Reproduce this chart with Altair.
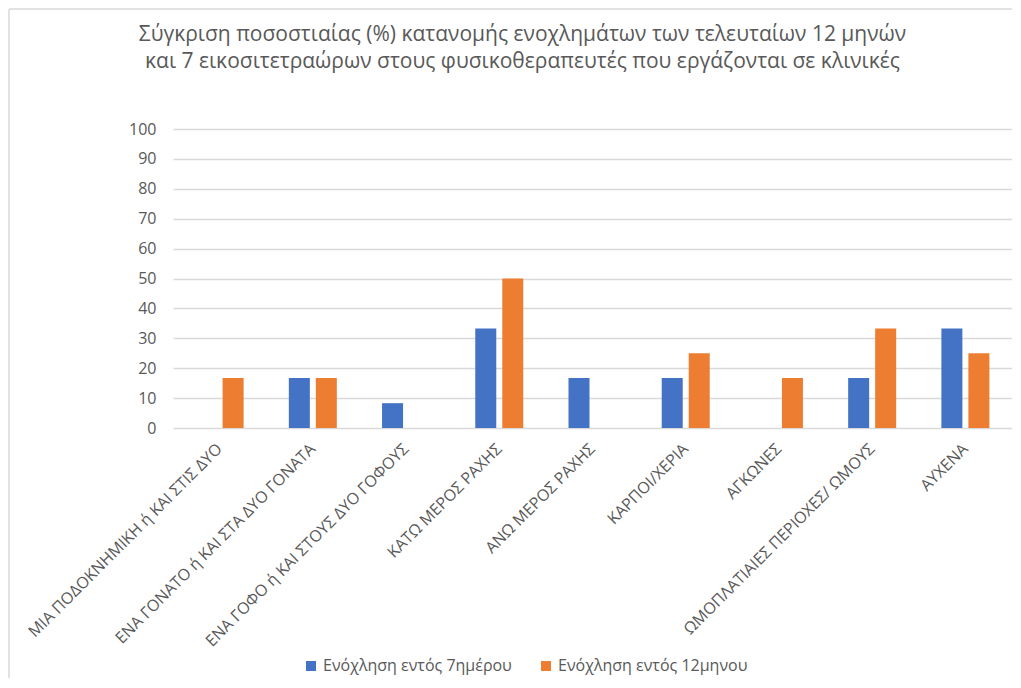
import altair as alt
import pandas as pd

categories = [
    "ΜΙΑ ΠΟΔΟΚΝΗΜΙΚΗ ή ΚΑΙ ΣΤΙΣ ΔΥΟ",
    "ΕΝΑ ΓΟΝΑΤΟ ή ΚΑΙ ΣΤΑ ΔΥΟ ΓΟΝΑΤΑ",
    "ΕΝΑ ΓΟΦΟ ή ΚΑΙ ΣΤΟΥΣ ΔΥΟ ΓΟΦΟΥΣ",
    "ΚΑΤΩ ΜΕΡΟΣ ΡΑΧΗΣ",
    "ΑΝΩ ΜΕΡΟΣ ΡΑΧΗΣ",
    "ΚΑΡΠΟΙ/ΧΕΡΙΑ",
    "ΑΓΚΩΝΕΣ",
    "ΩΜΟΠΛΑΤΙΑΙΕΣ ΠΕΡΙΟΧΕΣ/ ΩΜΟΥΣ",
    "ΑΥΧΕΝΑ",
]
series = ["Ενόχληση εντός 7ημέρου", "Ενόχληση εντός 12μηνου"]
week_vals = [0, 16.7, 8.3, 33.3, 16.7, 16.7, 0, 16.7, 33.3]
year_vals = [16.7, 16.7, 0, 50, 0, 25, 16.7, 33.3, 25]
y_ticks = [0, 10, 20, 30, 40, 50, 60, 70, 80, 90, 100]
colors = ["#4472C4", "#ED7D31"]
title_lines = [
    "Σύγκριση ποσοστιαίας (%) κατανομής ενοχλημάτων των τελευταίων 12 μηνών",
    "και 7 εικοσιτετραώρων στους φυσικοθεραπευτές που εργάζονται σε κλινικές",
]

rows = []
for c, w, y in zip(categories, week_vals, year_vals):
    rows.append({"cat": c, "series": series[0], "value": w})
    rows.append({"cat": c, "series": series[1], "value": y})
df = pd.DataFrame(rows)

FONT = "Open Sans"
GRAY = "#595959"

bars = alt.Chart(df).mark_bar().encode(
    x=alt.X(
        "cat:N",
        sort=categories,
        scale=alt.Scale(paddingInner=0.485, paddingOuter=0.2425),
        axis=alt.Axis(
            title=None, labelAngle=-45, labelAlign="right", labelBaseline="middle",
            labelPadding=18, ticks=False, domain=False, grid=False,
            labelFont=FONT, labelFontSize=16, labelColor=GRAY, labelLimit=400,
        ),
    ),
    xOffset=alt.XOffset("series:N", sort=series, scale=alt.Scale(paddingInner=0.222)),
    y=alt.Y(
        "value:Q",
        scale=alt.Scale(domain=[0, 100], nice=False),
        axis=alt.Axis(
            title=None, values=y_ticks, ticks=False, domain=False,
            labelPadding=17, labelFont=FONT, labelFontSize=16, labelColor=GRAY,
            gridColor="#d9d9d9", gridWidth=1.3,
        ),
    ),
    color=alt.Color(
        "series:N",
        sort=series,
        scale=alt.Scale(domain=series, range=colors),
        legend=alt.Legend(
            title=None, orient="none", direction="horizontal", legendX=130, legendY=529,
            symbolType="square", symbolSize=100, symbolStrokeWidth=0,
            labelFont=FONT, labelFontSize=16, labelColor=GRAY, labelLimit=400,
            columnPadding=26,
        ),
    ),
)

border_data = pd.DataFrame({"a": [0]})
left_border = alt.Chart(border_data).mark_rule(color="#d9d9d9", strokeWidth=1.5).encode(
    x=alt.value(-164), y=alt.value(-120), y2=alt.value(600)
)
top_border = alt.Chart(border_data).mark_rule(color="#d9d9d9", strokeWidth=1.5).encode(
    x=alt.value(-164), x2=alt.value(900), y=alt.value(-120)
)

chart = alt.layer(bars, left_border, top_border).properties(
    width=839,
    height=299,
    title=alt.TitleParams(
        text=title_lines, anchor="middle", dx=-70, offset=-64,
        font=FONT, fontSize=21, fontWeight="normal", color=GRAY, lineHeight=27,
    ),
    autosize=alt.AutoSizeParams(type="none"),
    padding={"left": 165, "top": 121, "right": 0, "bottom": 250},
).configure_view(stroke=None)

chart.save("out.html", embed_options={"renderer": "svg", "actions": False})
